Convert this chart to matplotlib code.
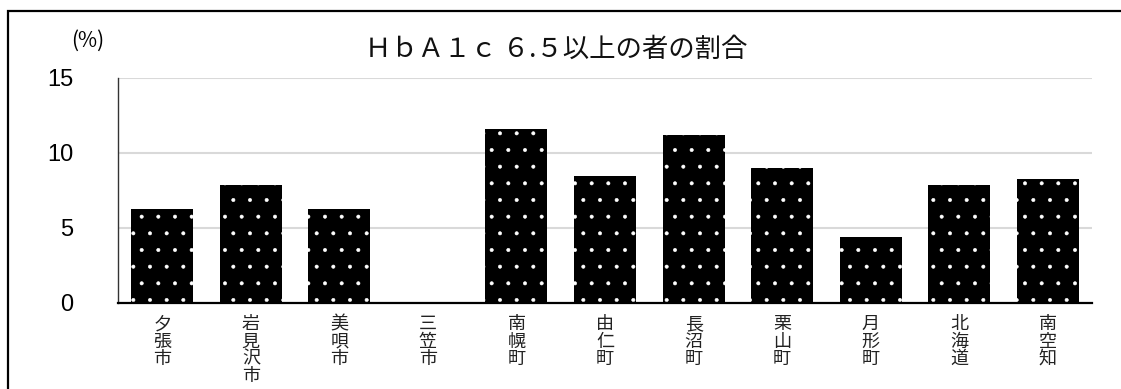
import numpy as np
import matplotlib
matplotlib.use("Agg")
import matplotlib.pyplot as plt

# data
areas = ["夕張市", "岩見沢市", "美唄市", "三笠市", "南幌町", "由仁町",
         "長沼町", "栗山町", "月形町", "北海道", "南空知"]
rates = [6.25, 7.85, 6.25, 0.0, 11.58, 8.45, 11.2, 9.0, 4.4, 7.85, 8.25]
y_ticks = [0, 5, 10, 15]
title = "ＨｂＡ１ｃ ６.５以上の者の割合"

jp = ["Noto Sans CJK JP", "DejaVu Sans"]
plt.rcParams["hatch.color"] = "white"
plt.rcParams["hatch.linewidth"] = 0.4

W, H = 1121, 389
fig = plt.figure(figsize=(W / 100, H / 100), dpi=100)
ax = fig.add_axes([118 / W, 1 - 302.7 / H, (1092 - 118) / W, (302.7 - 78) / H])

x = np.arange(len(areas))
ax.bar(x, rates, width=0.7, facecolor="black", hatch=".", zorder=3)

ax.set_xlim(-0.5, len(areas) - 0.5)
ax.set_ylim(0, 15)
ax.set_yticks(y_ticks)
ax.set_yticklabels([str(v) for v in y_ticks], family="Liberation Sans", fontsize=17)
ax.tick_params(axis="y", length=0, pad=32)

# vertical (stacked) category labels
ax.set_xticks(x)
ax.set_xticklabels(["\n".join(a) for a in areas], family=jp, fontsize=13,
                   linespacing=0.95, va="top", color="#222222")
ax.tick_params(axis="x", length=0, pad=9)

ax.yaxis.grid(True, color="#d9d9d9", linewidth=1.5, zorder=0)
ax.set_axisbelow(True)
for s in ["top", "right"]:
    ax.spines[s].set_visible(False)
ax.spines["left"].set_linewidth(1.0)
ax.spines["left"].set_color("#333333")
ax.spines["bottom"].set_linewidth(1.6)
ax.spines["bottom"].set_zorder(4)

fig.text(88 / W, 1 - 41 / H, "(%)", family=jp, fontsize=15,
         ha="center", va="center")
fig.text(556 / W, 1 - 49 / H, title, family=jp, fontsize=19,
         ha="center", va="center", color="#111111")

# outer chart frame (cut off at the right and bottom in the reference)
frame = plt.Rectangle((7.5 / W, -0.2), 1.2, 1.2 + (1 - 10.5 / H) - 1.0,
                      transform=fig.transFigure, fill=False,
                      edgecolor="black", linewidth=1.6, clip_on=False)
fig.add_artist(frame)

fig.savefig("out.png", dpi=100)
